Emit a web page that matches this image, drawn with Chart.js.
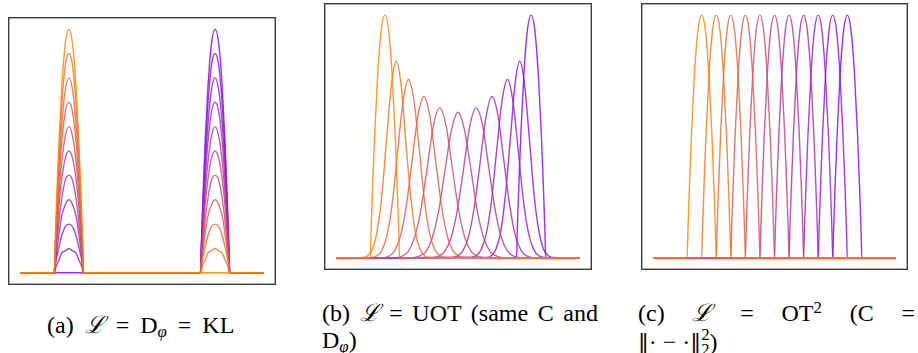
<!DOCTYPE html>
<html>
<head>
<meta charset="utf-8">
<script src="https://cdn.jsdelivr.net/npm/chart.js@4.4.1/dist/chart.umd.min.js"></script>
<style>
  body { margin:0; width:918px; height:353px; background:#fff; position:relative; overflow:hidden; font-family:'Liberation Serif', 'DejaVu Serif', serif; color:#000; }
  canvas { position:absolute; }
  .cap { position:absolute; font-size:24px; line-height:27px; white-space:nowrap; }
  .just { white-space:normal; text-align:justify; text-align-last:justify; }
  .cal { font-style:italic; }
  .sub { font-size:0.7em; position:relative; top:0.25em; font-style:italic; }
  .sup { font-size:0.7em; position:relative; top:-0.45em; }
  .stack { display:inline-block; font-size:0.7em; line-height:0.9em; vertical-align:-0.3em; }
  .stack span { display:block; }
  .norm { font-family:'DejaVu Serif', serif; font-size:0.9em; }
</style>
</head>
<body>
<canvas id="chart-a" width="268" height="268" style="left:8px;top:17px"></canvas>
<canvas id="chart-b" width="268" height="267" style="left:324px;top:3px"></canvas>
<canvas id="chart-c" width="267" height="267" style="left:641px;top:3px"></canvas>

<div class="cap" style="left:47px;top:312px;word-spacing:5px">(a) <span class="cal">ℒ</span> = D<span class="sub">φ</span> = KL</div>
<div class="cap just" style="left:322px;top:300px;width:276px">(b) <span class="cal">ℒ</span> = UOT (same C and</div>
<div class="cap" style="left:322px;top:327px">D<span class="sub">φ</span>)</div>
<div class="cap just" style="left:638px;top:300px;width:277px">(c) <span class="cal">ℒ</span> = OT<span class="sup">2</span> (C =</div>
<div class="cap" style="left:638px;top:327px"><span class="norm">‖</span>· − ·<span class="norm">‖</span><span class="stack"><span>2</span><span>2</span></span>)</div>

<script>
// (a) KL : shared x grid, one row per curve (orange -> purple)
const xGridA = [0, 0.14, 0.143, 0.149, 0.158, 0.17, 0.185, 0.2, 0.215, 0.23, 0.242, 0.251, 0.257, 0.26,
  0.74, 0.743, 0.749, 0.758, 0.77, 0.785, 0.8, 0.815, 0.83, 0.842, 0.851, 0.857, 0.86, 1];
const klCurves = [
  [0, 0, 0.1, 0.28, 0.51, 0.75, 0.94, 1, 0.94, 0.75, 0.51, 0.28, 0.1, 0, 0, 0, 0, 0, 0, 0, 0, 0, 0, 0, 0, 0, 0, 0],
  [0, 0, 0.09, 0.25, 0.46, 0.68, 0.85, 0.9, 0.85, 0.68, 0.46, 0.25, 0.09, 0, 0, 0.01, 0.03, 0.05, 0.08, 0.09, 0.1, 0.09, 0.08, 0.05, 0.03, 0.01, 0, 0],
  [0, 0, 0.08, 0.22, 0.41, 0.6, 0.75, 0.8, 0.75, 0.6, 0.41, 0.22, 0.08, 0, 0, 0.02, 0.06, 0.1, 0.15, 0.19, 0.2, 0.19, 0.15, 0.1, 0.06, 0.02, 0, 0],
  [0, 0, 0.07, 0.2, 0.36, 0.53, 0.66, 0.7, 0.66, 0.53, 0.36, 0.2, 0.07, 0, 0, 0.03, 0.08, 0.15, 0.23, 0.28, 0.3, 0.28, 0.23, 0.15, 0.08, 0.03, 0, 0],
  [0, 0, 0.06, 0.17, 0.31, 0.45, 0.56, 0.6, 0.56, 0.45, 0.31, 0.17, 0.06, 0, 0, 0.04, 0.11, 0.2, 0.3, 0.38, 0.4, 0.38, 0.3, 0.2, 0.11, 0.04, 0, 0],
  [0, 0, 0.05, 0.14, 0.26, 0.38, 0.47, 0.5, 0.47, 0.38, 0.26, 0.14, 0.05, 0, 0, 0.05, 0.14, 0.26, 0.38, 0.47, 0.5, 0.47, 0.38, 0.26, 0.14, 0.05, 0, 0],
  [0, 0, 0.04, 0.11, 0.2, 0.3, 0.38, 0.4, 0.38, 0.3, 0.2, 0.11, 0.04, 0, 0, 0.06, 0.17, 0.31, 0.45, 0.56, 0.6, 0.56, 0.45, 0.31, 0.17, 0.06, 0, 0],
  [0, 0, 0.03, 0.08, 0.15, 0.23, 0.28, 0.3, 0.28, 0.23, 0.15, 0.08, 0.03, 0, 0, 0.07, 0.2, 0.36, 0.53, 0.66, 0.7, 0.66, 0.53, 0.36, 0.2, 0.07, 0, 0],
  [0, 0, 0.02, 0.06, 0.1, 0.15, 0.19, 0.2, 0.19, 0.15, 0.1, 0.06, 0.02, 0, 0, 0.08, 0.22, 0.41, 0.6, 0.75, 0.8, 0.75, 0.6, 0.41, 0.22, 0.08, 0, 0],
  [0, 0, 0.01, 0.03, 0.05, 0.08, 0.09, 0.1, 0.09, 0.08, 0.05, 0.03, 0.01, 0, 0, 0.09, 0.25, 0.46, 0.68, 0.85, 0.9, 0.85, 0.68, 0.46, 0.25, 0.09, 0, 0],
  [0, 0, 0, 0, 0, 0, 0, 0, 0, 0, 0, 0, 0, 0, 0, 0.1, 0.28, 0.51, 0.75, 0.94, 1, 0.94, 0.75, 0.51, 0.28, 0.1, 0, 0],
];

// (b) UOT : each curve has its own x points
const uotX = [
  [0, 0.14, 0.143, 0.149, 0.158, 0.17, 0.185, 0.2, 0.215, 0.23, 0.242, 0.251, 0.257, 0.26, 1],
  [0, 0.11, 0.129, 0.149, 0.168, 0.188, 0.207, 0.227, 0.246, 0.266, 0.285, 0.305, 0.324, 0.344, 0.363, 0.383, 1],
  [0, 0.145, 0.167, 0.188, 0.21, 0.232, 0.253, 0.275, 0.297, 0.319, 0.341, 0.362, 0.384, 0.406, 0.428, 0.449, 1],
  [0, 0.192, 0.216, 0.24, 0.264, 0.288, 0.312, 0.336, 0.36, 0.384, 0.408, 0.432, 0.456, 0.48, 0.504, 0.528, 1],
  [0, 0.245, 0.271, 0.296, 0.322, 0.348, 0.374, 0.399, 0.425, 0.451, 0.476, 0.502, 0.528, 0.554, 0.579, 0.605, 1],
  [0, 0.315, 0.341, 0.368, 0.394, 0.421, 0.447, 0.474, 0.5, 0.526, 0.553, 0.579, 0.606, 0.632, 0.659, 0.685, 1],
  [0, 0.395, 0.421, 0.446, 0.472, 0.498, 0.524, 0.549, 0.575, 0.601, 0.626, 0.652, 0.678, 0.704, 0.729, 0.755, 1],
  [0, 0.472, 0.496, 0.52, 0.544, 0.568, 0.592, 0.616, 0.64, 0.664, 0.688, 0.712, 0.736, 0.76, 0.784, 0.808, 1],
  [0, 0.551, 0.572, 0.594, 0.616, 0.638, 0.659, 0.681, 0.703, 0.725, 0.747, 0.768, 0.79, 0.812, 0.833, 0.855, 1],
  [0, 0.617, 0.637, 0.656, 0.676, 0.695, 0.715, 0.734, 0.754, 0.773, 0.793, 0.812, 0.832, 0.851, 0.871, 0.89, 1],
  [0, 0.74, 0.743, 0.749, 0.758, 0.77, 0.785, 0.8, 0.815, 0.83, 0.842, 0.851, 0.857, 0.86, 1],
];
const uotY = [
  [0, 0, 0.1, 0.28, 0.51, 0.75, 0.94, 1, 0.94, 0.75, 0.51, 0.28, 0.1, 0, 0],
  [0, 0.002, 0.009, 0.036, 0.11, 0.263, 0.491, 0.715, 0.81, 0.715, 0.491, 0.263, 0.11, 0.036, 0.009, 0.002, 0],
  [0, 0.002, 0.008, 0.032, 0.099, 0.239, 0.446, 0.649, 0.735, 0.649, 0.446, 0.239, 0.099, 0.032, 0.008, 0.002, 0],
  [0, 0.001, 0.007, 0.029, 0.09, 0.216, 0.403, 0.587, 0.665, 0.587, 0.403, 0.216, 0.09, 0.029, 0.007, 0.001, 0],
  [0, 0.001, 0.007, 0.027, 0.084, 0.201, 0.375, 0.545, 0.618, 0.545, 0.375, 0.201, 0.084, 0.027, 0.007, 0.001, 0],
  [0, 0.001, 0.007, 0.026, 0.081, 0.195, 0.364, 0.53, 0.6, 0.53, 0.364, 0.195, 0.081, 0.026, 0.007, 0.001, 0],
  [0, 0.001, 0.007, 0.027, 0.084, 0.201, 0.375, 0.545, 0.618, 0.545, 0.375, 0.201, 0.084, 0.027, 0.007, 0.001, 0],
  [0, 0.001, 0.007, 0.029, 0.09, 0.216, 0.403, 0.587, 0.665, 0.587, 0.403, 0.216, 0.09, 0.029, 0.007, 0.001, 0],
  [0, 0.002, 0.008, 0.032, 0.099, 0.239, 0.446, 0.649, 0.735, 0.649, 0.446, 0.239, 0.099, 0.032, 0.008, 0.002, 0],
  [0, 0.002, 0.009, 0.036, 0.11, 0.263, 0.491, 0.715, 0.81, 0.715, 0.491, 0.263, 0.11, 0.036, 0.009, 0.002, 0],
  [0, 0, 0.1, 0.28, 0.51, 0.75, 0.94, 1, 0.94, 0.75, 0.51, 0.28, 0.1, 0, 0],
];

// (c) OT² : same bump everywhere, only the position moves
const otX = [
  [0, 0.14, 0.143, 0.149, 0.158, 0.17, 0.185, 0.2, 0.215, 0.23, 0.242, 0.251, 0.257, 0.26, 1],
  [0, 0.2, 0.203, 0.209, 0.218, 0.23, 0.245, 0.26, 0.275, 0.29, 0.302, 0.311, 0.317, 0.32, 1],
  [0, 0.26, 0.263, 0.269, 0.278, 0.29, 0.305, 0.32, 0.335, 0.35, 0.362, 0.371, 0.377, 0.38, 1],
  [0, 0.32, 0.323, 0.329, 0.338, 0.35, 0.365, 0.38, 0.395, 0.41, 0.422, 0.431, 0.437, 0.44, 1],
  [0, 0.38, 0.383, 0.389, 0.398, 0.41, 0.425, 0.44, 0.455, 0.47, 0.482, 0.491, 0.497, 0.5, 1],
  [0, 0.44, 0.443, 0.449, 0.458, 0.47, 0.485, 0.5, 0.515, 0.53, 0.542, 0.551, 0.557, 0.56, 1],
  [0, 0.5, 0.503, 0.509, 0.518, 0.53, 0.545, 0.56, 0.575, 0.59, 0.602, 0.611, 0.617, 0.62, 1],
  [0, 0.56, 0.563, 0.569, 0.578, 0.59, 0.605, 0.62, 0.635, 0.65, 0.662, 0.671, 0.677, 0.68, 1],
  [0, 0.62, 0.623, 0.629, 0.638, 0.65, 0.665, 0.68, 0.695, 0.71, 0.722, 0.731, 0.737, 0.74, 1],
  [0, 0.68, 0.683, 0.689, 0.698, 0.71, 0.725, 0.74, 0.755, 0.77, 0.782, 0.791, 0.797, 0.8, 1],
  [0, 0.74, 0.743, 0.749, 0.758, 0.77, 0.785, 0.8, 0.815, 0.83, 0.842, 0.851, 0.857, 0.86, 1],
];
const otProfile = [0, 0, 0.1, 0.28, 0.51, 0.75, 0.94, 1, 0.94, 0.75, 0.51, 0.28, 0.1, 0, 0];

const ORANGE = [255, 128, 0];
const PURPLE = [128, 0, 255];

function curveColor(k, n) {
  const t = k / (n - 1);
  const c = ORANGE.map((o, i) => Math.round(o + (PURPLE[i] - o) * t));
  return `rgba(${c[0]},${c[1]},${c[2]},0.82)`;
}

// axes box, like the matplotlib frame
const frame = {
  id: 'frame',
  afterDraw(chart) {
    const { ctx, chartArea: a } = chart;
    ctx.save();
    ctx.strokeStyle = '#3c3c3c';
    ctx.lineWidth = 1.4;
    ctx.strokeRect(a.left + 0.7, a.top + 0.7, a.right - a.left - 1.4, a.bottom - a.top - 1.4);
    ctx.restore();
  },
};

function drawPanel(id, xRows, yRows) {
  const datasets = yRows.map((ys, k) => ({
    data: ys.map((y, i) => ({ x: xRows[k][i], y })),
    borderColor: curveColor(k, yRows.length),
    borderWidth: 1.4,
    pointRadius: 0,
    fill: false,
    cubicInterpolationMode: 'monotone',
  }));
  new Chart(document.getElementById(id), {
    type: 'line',
    data: { datasets },
    options: {
      responsive: false, animation: false, events: [],
      layout: { padding: 0 },
      plugins: { legend: { display: false }, tooltip: { enabled: false } },
      scales: {
        x: { type: 'linear', min: -0.05, max: 1.05, display: false },
        y: { min: -0.05, max: 1.05, display: false },
      },
    },
    plugins: [frame],
  });
}

drawPanel('chart-a', klCurves.map(() => xGridA), klCurves);
drawPanel('chart-b', uotX, uotY);
drawPanel('chart-c', otX, otX.map(() => otProfile));
</script>
</body>
</html>
